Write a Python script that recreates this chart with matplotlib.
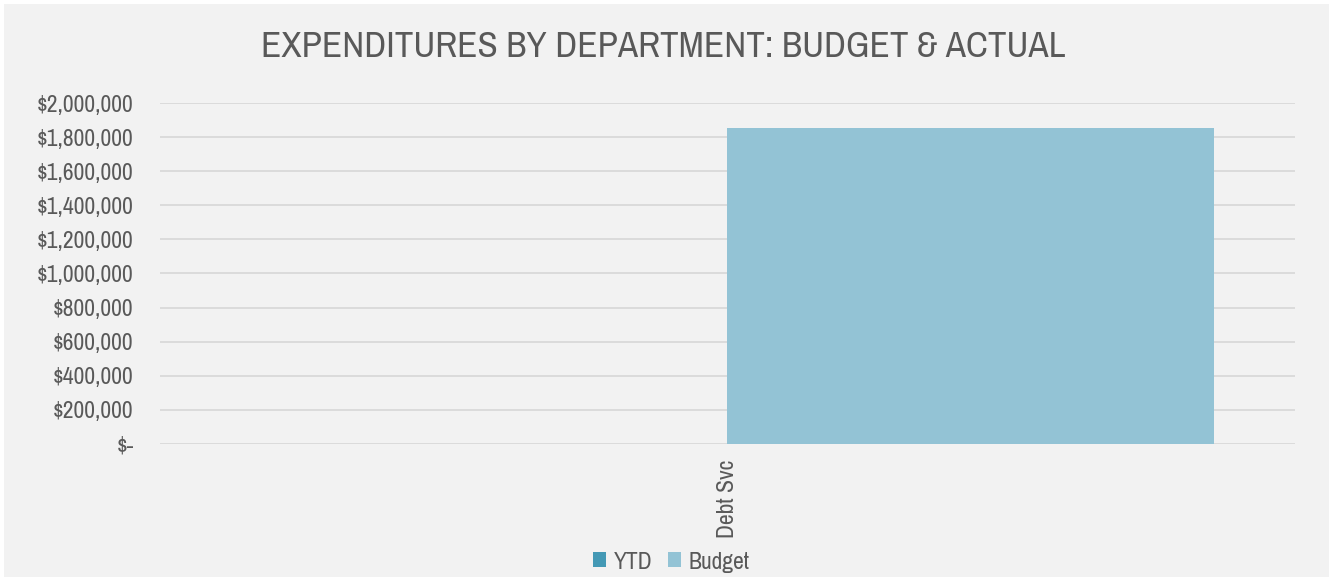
import numpy as np
import matplotlib.pyplot as plt
import matplotlib.font_manager as fm
from matplotlib.ticker import FuncFormatter
from matplotlib.patches import Rectangle

# data
categories = ['Debt Svc']
ytd = [0]
budget = [1855000]
series_names = ['YTD', 'Budget']

text_col = '#595959'

# look for a narrow sans (the reference uses Arial Narrow)
narrow = None
for f in fm.fontManager.ttflist:
    if f.style != 'normal' or f.weight not in (400, 'normal', 'regular'):
        continue
    if 'Narrow' in f.name or 'Condensed' in f.name or f.stretch in ('condensed', 'semi-condensed'):
        if narrow is None or 'Narrow' in f.name:
            narrow = f
if narrow is not None:
    plt.rcParams['font.family'] = [narrow.name, 'DejaVu Sans']
    plt.rcParams['font.stretch'] = narrow.stretch
    scale = 1.0
else:
    plt.rcParams['font.family'] = ['Liberation Sans', 'DejaVu Sans']
    scale = 0.85

fig = plt.figure(figsize=(13.33, 5.79), dpi=100)
fig.patch.set_facecolor('white')
fig.patches.append(Rectangle((0.003, 0.003), 0.994, 0.99, transform=fig.transFigure,
                             facecolor='#f2f2f2', edgecolor='none', zorder=-10))

ax = fig.add_axes([0.12, 0.2332, 0.8515, 0.5889])
ax.set_facecolor('none')

x = np.arange(len(categories))
w = 0.429
ax.bar(x - w / 2, ytd, w, color='#4499b5', label=series_names[0])
ax.bar(x + w / 2, budget, w, color='#93c3d5', label=series_names[1])

ax.set_xlim(-0.5, 0.5)
ax.set_ylim(0, 2000000)
ax.set_yticks(np.arange(0, 2000001, 200000))

def money(v, pos):
    if v == 0:
        return '$-'
    return '${:,.0f}'.format(v)

ax.yaxis.set_major_formatter(FuncFormatter(money))
ax.grid(axis='y', color='#d9d9d9', linewidth=1.3)
ax.set_axisbelow(True)
for s in ax.spines.values():
    s.set_visible(False)
ax.tick_params(axis='y', length=0, pad=19, labelsize=18.5 * scale, labelcolor=text_col)
ax.set_xticks(x)
ax.set_xticklabels(categories, rotation=90, fontsize=18.5 * scale, color=text_col)
ax.tick_params(axis='x', length=0, pad=11)

fig.text(0.4975, 0.919, 'EXPENDITURES BY DEPARTMENT: BUDGET & ACTUAL', ha='center', va='center',
         fontsize=29 * scale, color=text_col)

fig.legend(loc='center', bbox_to_anchor=(0.5035, 0.029), ncol=2, frameon=False,
           fontsize=18.5 * scale, labelcolor=text_col, handlelength=0.5, handleheight=0.5,
           handletextpad=0.3, columnspacing=0.6)

fig.savefig('out.png', dpi=100)
